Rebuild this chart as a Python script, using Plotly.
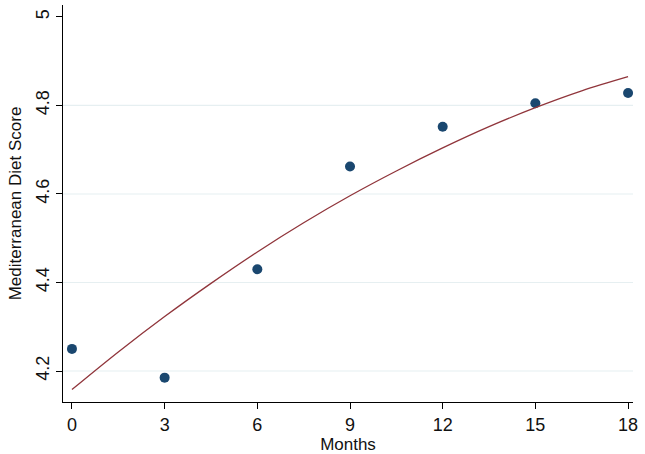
import plotly.graph_objects as go

months = [0, 3, 6, 9, 12, 15, 18]
scores = [4.25, 4.185, 4.43, 4.662, 4.752, 4.805, 4.828]

fit_months = [0, 1.5, 3, 4.5, 6, 7.5, 9, 10.5, 12, 13.5, 15, 16.5, 18]
fit_scores = [4.158, 4.243, 4.323, 4.398, 4.469, 4.535, 4.596, 4.652, 4.704, 4.752, 4.795, 4.833, 4.865]

x_ticks = [0, 3, 6, 9, 12, 15, 18]
y_ticks = [4.2, 4.4, 4.6, 4.8, 5.0]
y_tick_text = ["4.2", "4.4", "4.6", "4.8", "5"]
grid_vals = [4.2, 4.4, 4.6, 4.8]

font = "Liberation Sans, Arial, sans-serif"

fig = go.Figure()
fig.add_trace(go.Scatter(x=months, y=scores, mode="markers",
                         marker=dict(color="#1a476f", size=10),
                         showlegend=False, cliponaxis=False))
fig.add_trace(go.Scatter(x=fit_months, y=fit_scores, mode="lines",
                         line=dict(color="#90353b", width=1.3, shape="spline"),
                         showlegend=False))

for g in grid_vals:
    fig.add_shape(type="line", xref="paper", yref="y", x0=0, x1=1, y0=g, y1=g,
                  line=dict(color="#e6eff1", width=1.2), layer="below")

fig.update_layout(
    width=645, height=454,
    margin=dict(l=63, r=12, t=5, b=52),
    paper_bgcolor="white", plot_bgcolor="white",
    font=dict(family=font, size=16, color="#111111"),
)
fig.update_xaxes(
    range=[-0.29, 18.16], tickvals=x_ticks, ticktext=[str(v) for v in x_ticks],
    showgrid=False, zeroline=False, showline=True, linecolor="black", linewidth=1.3,
    ticks="outside", ticklen=6, tickcolor="black", tickwidth=1.2,
    tickfont=dict(size=18),
    title=dict(text="Months", font=dict(size=17), standoff=3),
)
fig.update_yaxes(
    range=[4.13, 5.027], tickvals=y_ticks, ticktext=y_tick_text, tickangle=-90,
    showgrid=False, zeroline=False, showline=True, linecolor="black", linewidth=1.3,
    ticks="outside", ticklen=6, tickcolor="black", tickwidth=1.2,
    tickfont=dict(size=18),
    title=dict(text="Mediterranean Diet Score", font=dict(size=17), standoff=6),
)

fig.write_html("out.html", config={"displayModeBar": False},
               post_script="document.body.style.margin='0';document.body.style.overflow='hidden';")
